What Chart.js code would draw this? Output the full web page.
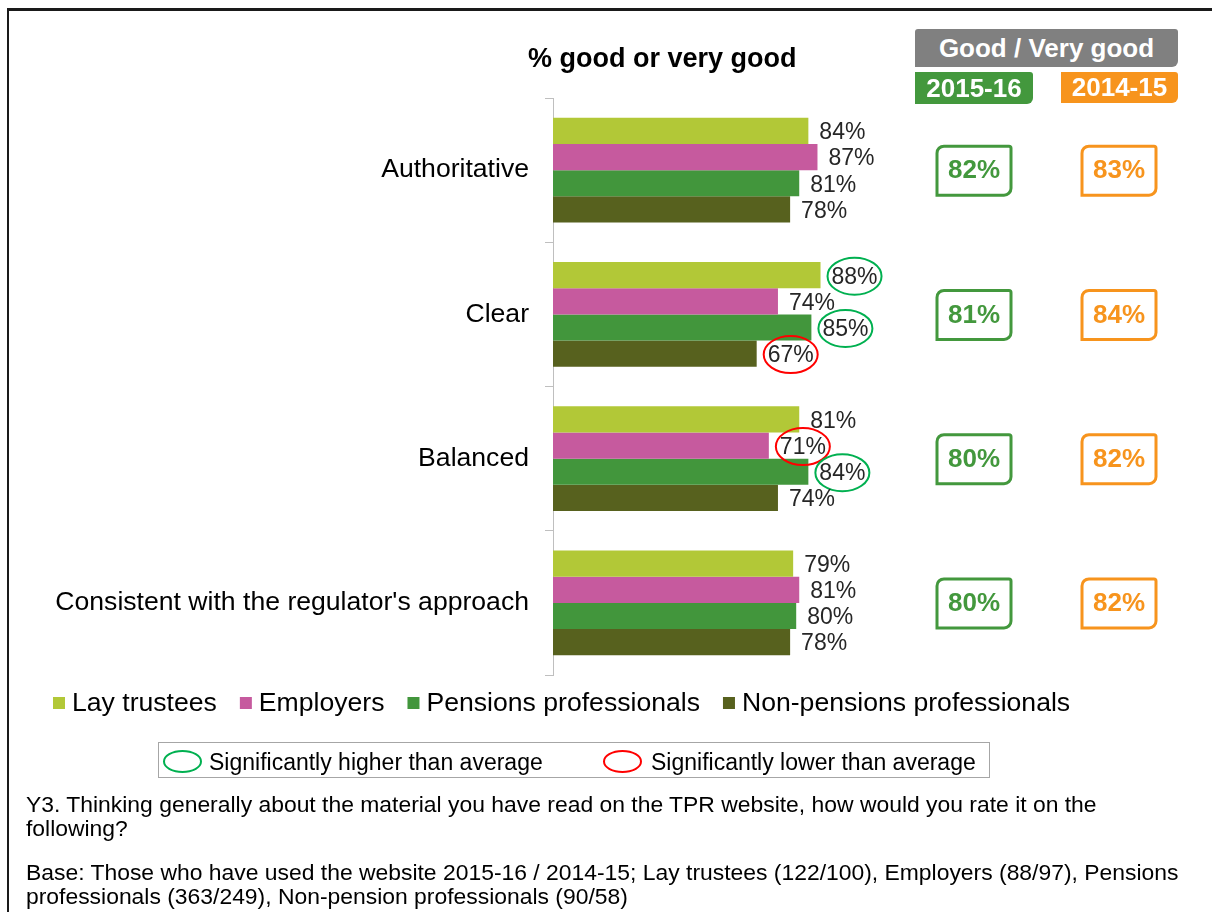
<!DOCTYPE html>
<html>
<head>
<meta charset="utf-8">
<script src="https://cdn.jsdelivr.net/npm/chart.js@4.4.1/dist/chart.umd.min.js"></script>
<style>
  body { margin: 0; background: #fff; font-family: Arial, "Liberation Sans", sans-serif; }
  #wrap { position: relative; width: 1212px; height: 912px; overflow: hidden; background: #fff; }
  #g1 { position: absolute; left: 0; top: 0; }
  .frame { position: absolute; left: 7px; top: 8px; width: 1300px; height: 1000px;
    border-top: 3px solid #1a1a1a; border-left: 2px solid #1a1a1a; }
  .title { position: absolute; left: 528px; top: 43px; font-weight: bold; font-size: 27px;
    line-height: 30px; color: #000; white-space: nowrap; }
  .head { position: absolute; color: #fff; font-weight: bold; font-size: 26px; text-align: center;
    white-space: nowrap; }
  .grey { left: 915px; top: 29px; width: 263px; height: 38px; line-height: 38px;
    background: #808080; border-radius: 3px 3px 6px 0; }
  .green { left: 915px; top: 72px; width: 118px; height: 32px; line-height: 32px;
    background: #43983d; border-radius: 0 3px 6px 0; }
  .orange { left: 1061px; top: 72px; width: 117px; height: 31px; line-height: 31px;
    background: #f7941d; border-radius: 0 3px 6px 0; }
  .sig { position: absolute; left: 158px; top: 742px; width: 830px; height: 34px;
    border: 1px solid #a6a6a6; }
  .sig .ring { position: absolute; top: 7px; width: 35px; height: 19px; border-radius: 50%; border: 2px solid; }
  .sig .txt { position: absolute; top: 1px; line-height: 36px; font-size: 23px; color: #000; white-space: nowrap; }
  .note { position: absolute; left: 26px; font-size: 22.9px; line-height: 24px; color: #000; white-space: nowrap; }
</style>
</head>
<body>
<div id="wrap">
  <canvas id="g1" width="1212" height="912"></canvas>
  <div class="frame"></div>
  <div class="title">% good or very good</div>
  <div class="head grey">Good / Very good</div>
  <div class="head green">2015-16</div>
  <div class="head orange">2014-15</div>
  <div class="sig">
    <div class="ring" style="left:4px; border-color:#00b050"></div>
    <div class="txt" style="left:50px">Significantly higher than average</div>
    <div class="ring" style="left:444px; border-color:#ff0000"></div>
    <div class="txt" style="left:492px">Significantly lower than average</div>
  </div>
  <div class="note" style="top:792px">Y3. Thinking generally about the material you have read on the TPR website, how would you rate it on the</div>
  <div class="note" style="top:816px">following?</div>
  <div class="note" style="top:860px">Base: Those who have used the website 2015-16 / 2014-15; Lay trustees (122/100), Employers (88/97), Pensions</div>
  <div class="note" style="top:884px">professionals (363/249), Non-pension professionals (90/58)</div>
</div>
<script>
const categories = ["Authoritative", "Clear", "Balanced", "Consistent with the regulator's approach"];

const layTrustees = [84, 88, 81, 79];
const employers = [87, 74, 71, 81];
const pensionsProfessionals = [81, 85, 84, 80];
const nonPensionsProfessionals = [78, 67, 74, 78];

// significance vs average: "high", "low" or null
const layTrusteesSig = [null, "high", null, null];
const employersSig = [null, null, "low", null];
const pensionsProfessionalsSig = [null, "high", "high", null];
const nonPensionsProfessionalsSig = [null, "low", null, null];

const good1516 = [82, 81, 80, 80];
const good1415 = [83, 84, 82, 82];

const sigFlags = [layTrusteesSig, employersSig, pensionsProfessionalsSig, nonPensionsProfessionalsSig];
const fontFamily = "Arial, 'Liberation Sans', sans-serif";

Chart.defaults.font.family = fontFamily;

// value labels at the bar ends, ringed where significant
const barLabels = {
  id: "barLabels",
  afterDatasetsDraw(chart) {
    const ctx = chart.ctx;
    ctx.save();
    ctx.font = "23px " + fontFamily;
    ctx.textBaseline = "middle";
    ctx.textAlign = "left";
    chart.data.datasets.forEach((ds, i) => {
      const meta = chart.getDatasetMeta(i);
      meta.data.forEach((bar, j) => {
        const text = ds.data[j] + "%";
        const x = bar.x + 11;
        const y = bar.y + 2;
        ctx.fillStyle = "#262626";
        ctx.fillText(text, x, y);
        const flag = sigFlags[i][j];
        if (flag) {
          const w = ctx.measureText(text).width;
          ctx.beginPath();
          ctx.ellipse(x + w / 2, y - 1, 27, 18.5, 0, 0, Math.PI * 2);
          ctx.strokeStyle = flag === "high" ? "#00b050" : "#ff0000";
          ctx.lineWidth = 2;
          ctx.stroke();
        }
      });
    });
    ctx.restore();
  },
};

// year totals on the right and the series legend underneath
const sideBoxes = {
  id: "sideBoxes",
  afterDraw(chart) {
    const ctx = chart.ctx;
    const yScale = chart.scales.y;
    ctx.save();
    ctx.textAlign = "center";
    ctx.textBaseline = "middle";
    ctx.font = "bold 26px " + fontFamily;
    ctx.lineWidth = 3;
    categories.forEach((c, i) => {
      const y = yScale.getPixelForValue(i);
      [[good1516, "#43983d", 937], [good1415, "#f7941d", 1082]].forEach(([vals, col, left]) => {
        ctx.beginPath();
        ctx.roundRect(left, y - 24, 74, 49, [7, 2, 7, 0]);
        ctx.strokeStyle = col;
        ctx.stroke();
        ctx.fillStyle = col;
        ctx.fillText(vals[i] + "%", left + 37, y + 1);
      });
    });

    ctx.textAlign = "left";
    ctx.font = "26.6px " + fontFamily;
    let x = 53;
    const ly = 703;
    chart.data.datasets.forEach((ds) => {
      ctx.fillStyle = ds.backgroundColor;
      ctx.fillRect(x, ly - 6, 12, 12);
      ctx.fillStyle = "#000";
      ctx.fillText(ds.label, x + 19, ly + 1);
      x += 19 + ctx.measureText(ds.label).width + 23;
    });
    ctx.restore();
  },
};

const data1 = {
  labels: categories,
  datasets: [
    { label: "Lay trustees", data: layTrustees, backgroundColor: "#b2c837" },
    { label: "Employers", data: employers, backgroundColor: "#c65a9e" },
    { label: "Pensions professionals", data: pensionsProfessionals, backgroundColor: "#42963c" },
    { label: "Non-pensions professionals", data: nonPensionsProfessionals, backgroundColor: "#57611e" },
  ],
};

const config1 = {
  type: "bar",
  data: data1,
  options: {
    indexAxis: "y",
    responsive: false,
    animation: false,
    datasets: {
      bar: { categoryPercentage: 0.725, barPercentage: 1, borderWidth: 0 },
    },
    layout: { padding: { left: 30, top: 98, right: 355, bottom: 237 } },
    scales: {
      x: { display: false, min: 0, max: 100 },
      y: {
        afterFit: (scale) => { scale.width = 523; },
        grid: { drawOnChartArea: false, drawTicks: true, tickLength: 8, color: "#bfbfbf", offset: true },
        border: { display: true, color: "#bfbfbf", width: 1 },
        ticks: { color: "#000", font: { size: 26.6 }, padding: 16 },
      },
    },
    plugins: {
      legend: { display: false },
      tooltip: { enabled: false },
    },
  },
  plugins: [barLabels, sideBoxes],
};

const chart1 = new Chart(document.getElementById("g1"), config1);
</script>
</body>
</html>
